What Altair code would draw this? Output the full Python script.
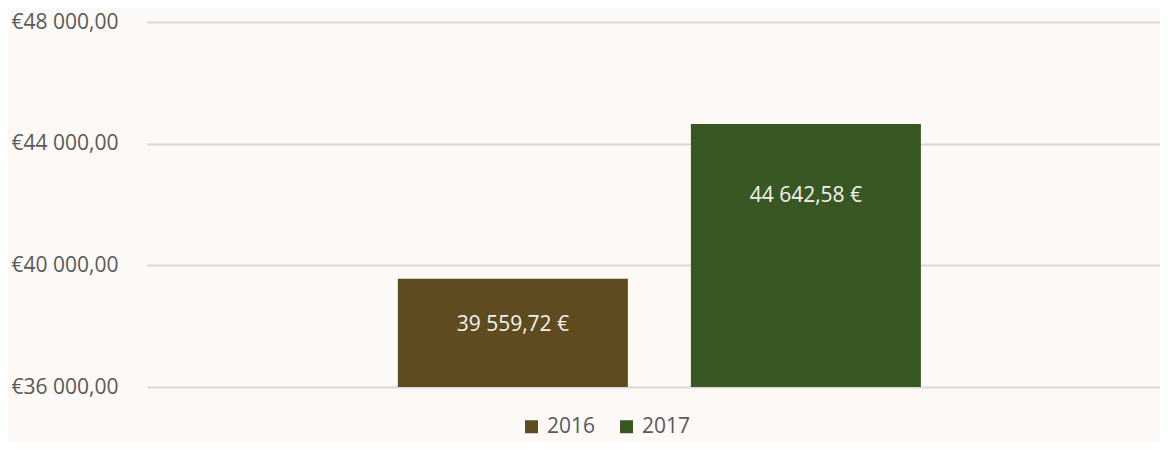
import altair as alt
import pandas as pd

years = ["2016", "2017"]
values = [39559.72, 44642.58]
label_at = [38027, 42278]
colors = ["#5F4B20", "#385723"]

df = pd.DataFrame({"year": years, "value": values, "label_at": label_at})

FONT = "Open Sans"

x = alt.X("year:N", axis=None,
          scale=alt.Scale(domain=years, paddingInner=0.215, paddingOuter=0.836, align=0.512))

base = alt.Chart(df)

bars = base.mark_bar().encode(
    x=x,
    y=alt.Y("value:Q",
            scale=alt.Scale(domain=[36000, 48000], zero=False, nice=False, clamp=True),
            axis=alt.Axis(values=[36000, 40000, 44000, 48000], format="$,.2f", title=None,
                          domain=False, ticks=False, labelPadding=29,
                          labelFont=FONT, labelFontSize=21, labelColor="#595959",
                          gridColor="#D9D9D9", gridWidth=2)),
    color=alt.Color("year:N", scale=alt.Scale(domain=years, range=colors),
                    legend=alt.Legend(title=None, orient="none", direction="horizontal",
                                      legendX=374, legendY=394,
                                      symbolType="square", symbolSize=169, symbolStrokeWidth=0,
                                      symbolOpacity=1,
                                      labelFont=FONT, labelFontSize=21, labelColor="#595959",
                                      labelOffset=5, columnPadding=20)),
)

labels = base.transform_calculate(
    txt="format(datum.value, ',.2f') + ' €'"
).mark_text(font=FONT, fontSize=21, color="#F2F2F2", baseline="middle", align="center").encode(
    x=x,
    y=alt.Y("label_at:Q"),
    text="txt:N",
)

chart = alt.layer(bars, labels).properties(
    width=1013, height=365,
    padding={"left": 139, "top": 14, "right": 0, "bottom": 55},
    autosize=alt.AutoSizeParams(type="none"),
    background="#FCF9F6",
).configure(
    locale={"number": {"decimal": ",", "thousands": " ", "grouping": [3], "currency": ["€", ""]}}
).configure_view(strokeWidth=0)

chart.save("out.html", embed_options={"renderer": "svg", "actions": False})
